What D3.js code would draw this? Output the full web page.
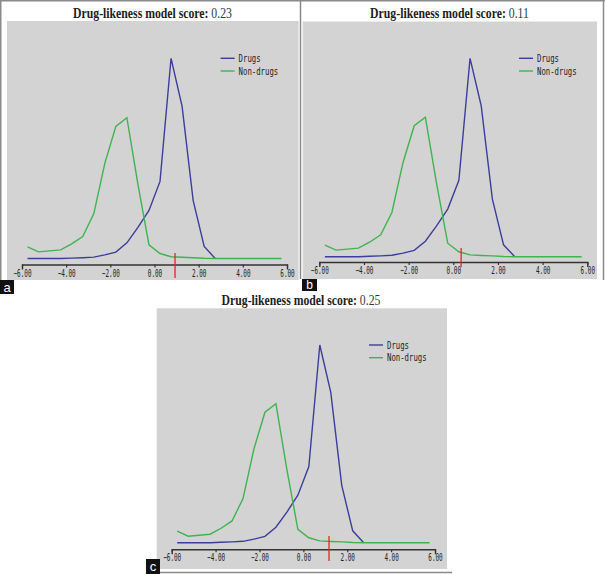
<!DOCTYPE html>
<html>
<head>
<meta charset="utf-8">
<script src="https://cdn.jsdelivr.net/npm/d3@7"></script>
<style>
  html, body { margin: 0; padding: 0; background: #fff; }
  svg { display: block; }
</style>
</head>
<body>
<div id="chart"></div>
<script>
// score bins (centres) and the two distributions
const bins = [-5.75, -5.25, -4.75, -4.25, -3.75, -3.25, -2.75, -2.25, -1.75, -1.25, -0.75, -0.25,
  0.25, 0.75, 1.25, 1.75, 2.25, 2.75, 3.25, 3.75, 4.25, 4.75, 5.25, 5.75]
const drugs = [0, 0, 0, 0, 0.2, 0.4, 0.7, 1.8, 3.2, 7.8, 15.5, 24,
  38.5, 100, 76, 29, 6, 0, null, null, null, null, null, null]
const nonDrugs = [5.8, 3.3, 3.8, 4.3, 7.3, 11, 22.3, 47.5, 66, 70.3, 37, 6.8,
  2.5, 0.9, 0.6, 0.4, 0.1, 0, 0, 0, 0, 0, 0, 0]

const panelLabels = ["a", "b", "c"]
const scores = ["0.23", "0.11", "0.25"]
const markers = [0.93, 0.35, 1.17]
const tickValues = [-6, -4, -2, 0, 2, 4, 6]
const legendLabels = ["Drugs", "Non-drugs"]

const colors = { drugs: "#3d3d9c", nonDrugs: "#3fb44e", marker: "#e3261f" }

// panel geometry in page pixels
const layout = [
  { gx: 7, gy: 21, gw: 291.6, gh: 259, x0: 22, x1: 287, base: 258.5, top: 58.3, axis: 264.5,
    tx: 152.5, ty: 17.5, mk: [253, 278], box: [0, 280, 14, 14] },
  { gx: 302.7, gy: 21.5, gw: 294.3, gh: 257.5, x0: 319.3, x1: 587.3, base: 256.7, top: 58.3, axis: 262,
    tx: 449.5, ty: 17.5, mk: [248, 267], box: [302, 279, 15, 12] },
  { gx: 156.7, gy: 308.3, gw: 290.3, gh: 260.7, x0: 171.7, x1: 435, base: 542.7, top: 345, axis: 549.3,
    tx: 301, ty: 305, mk: [536, 561], box: [146, 559, 14, 15] }
]

const W = 605, H = 574

const svg = d3.select("#chart").append("svg")
  .attr("width", W)
  .attr("height", H)

// frame lines
const frame = svg.append("g").attr("stroke", "#8a8a8a").attr("stroke-width", 1.5)
frame.append("line").attr("x1", 0).attr("x2", W).attr("y1", 0.75).attr("y2", 0.75)
frame.append("line").attr("x1", 0.75).attr("x2", 0.75).attr("y1", 0).attr("y2", 280)
frame.append("line").attr("x1", 603.5).attr("x2", 603.5).attr("y1", 0).attr("y2", 280)
frame.append("line").attr("x1", 300.5).attr("x2", 300.5).attr("y1", 0).attr("y2", 279)
frame.append("line").attr("x1", 160).attr("x2", 452).attr("y1", 572.5).attr("y2", 572.5)

const points = bins.map((b, i) => ({ x: b, d: drugs[i], n: nonDrugs[i] }))

layout.forEach((p, k) => {
  const g = svg.append("g")

  g.append("rect")
    .attr("x", p.gx).attr("y", p.gy)
    .attr("width", p.gw).attr("height", p.gh)
    .attr("fill", "#d3d3d3")

  const x = d3.scaleLinear().domain([-6, 6]).range([p.x0, p.x1])
  const y = d3.scaleLinear().domain([0, 100]).range([p.base, p.top])

  const lineD = d3.line()
    .defined((d) => d.d != null)
    .x((d) => x(d.x))
    .y((d) => y(d.d))
  const lineN = d3.line()
    .x((d) => x(d.x))
    .y((d) => y(d.n))

  g.append("path")
    .attr("d", lineD(points))
    .attr("fill", "none")
    .attr("stroke", colors.drugs)
    .attr("stroke-width", 1.4)

  g.append("path")
    .attr("d", lineN(points))
    .attr("fill", "none")
    .attr("stroke", colors.nonDrugs)
    .attr("stroke-width", 1.4)

  // axis
  const ax = g.append("g")
    .attr("transform", "translate(0," + p.axis + ")")
    .call(d3.axisBottom(x)
      .tickValues(tickValues)
      .tickFormat(d3.format(".2f"))
      .tickSizeInner(3)
      .tickSizeOuter(5))
  ax.select(".domain").attr("stroke", "#333").attr("stroke-width", 1.4)
  ax.selectAll(".tick line").attr("stroke", "#333").attr("stroke-width", 1.2)
  ax.selectAll(".tick text")
    .attr("y", 5)
    .attr("dy", "0.71em")
    .attr("fill", "#222")
    .style("font-family", "'DejaVu Sans Mono', monospace")
    .style("font-size", "10px")
    .attr("textLength", function () { return this.textContent.length * 3.6 })
    .attr("lengthAdjust", "spacingAndGlyphs")

  // score marker
  g.append("line")
    .attr("x1", x(markers[k])).attr("x2", x(markers[k]))
    .attr("y1", p.mk[0]).attr("y2", p.mk[1])
    .attr("stroke", colors.marker)
    .attr("stroke-width", 1.3)

  // legend
  const lx = p.gx + p.gw - 78
  const ly = p.top
  const leg = g.append("g")
  legendLabels.forEach((name, i) => {
    const yy = ly + i * 12.7
    leg.append("line")
      .attr("x1", lx).attr("x2", lx + 14)
      .attr("y1", yy).attr("y2", yy)
      .attr("stroke", i === 0 ? colors.drugs : colors.nonDrugs)
      .attr("stroke-width", 1.4)
    leg.append("text")
      .attr("x", lx + 18).attr("y", yy)
      .attr("dy", "0.35em")
      .attr("fill", "#222")
      .style("font-family", "'DejaVu Sans Mono', monospace")
      .style("font-size", "10.5px")
      .attr("textLength", name.length * 4.4)
      .attr("lengthAdjust", "spacingAndGlyphs")
      .text(name)
  })

  // title: drawn at natural width, then squeezed to the reference width
  const tg = g.append("g")
  const t = tg.append("text")
    .attr("text-anchor", "middle")
    .style("font-family", "'Liberation Serif', 'Times New Roman', serif")
    .style("font-size", "14px")
  t.append("tspan").attr("font-weight", "bold").attr("fill", "#1e1e1e").text("Drug-likeness model score: ")
  t.append("tspan").attr("fill", "#2f3a48").text(scores[k])
  const tw = t.node().getComputedTextLength()
  tg.attr("transform", "translate(" + p.tx + "," + p.ty + ") scale(" + (159 / tw) + ",1)")

  // panel letter
  const b = p.box
  g.append("rect")
    .attr("x", b[0]).attr("y", b[1])
    .attr("width", b[2]).attr("height", b[3])
    .attr("fill", "#111")
  g.append("text")
    .attr("x", b[0] + b[2] / 2).attr("y", b[1] + b[3] / 2)
    .attr("dy", "0.35em")
    .attr("text-anchor", "middle")
    .attr("fill", "#fff")
    .style("font-family", "Arial, 'Liberation Sans', sans-serif")
    .style("font-size", b[3] < 14 ? "12px" : "13px")
    .text(panelLabels[k])
})
</script>
</body>
</html>
